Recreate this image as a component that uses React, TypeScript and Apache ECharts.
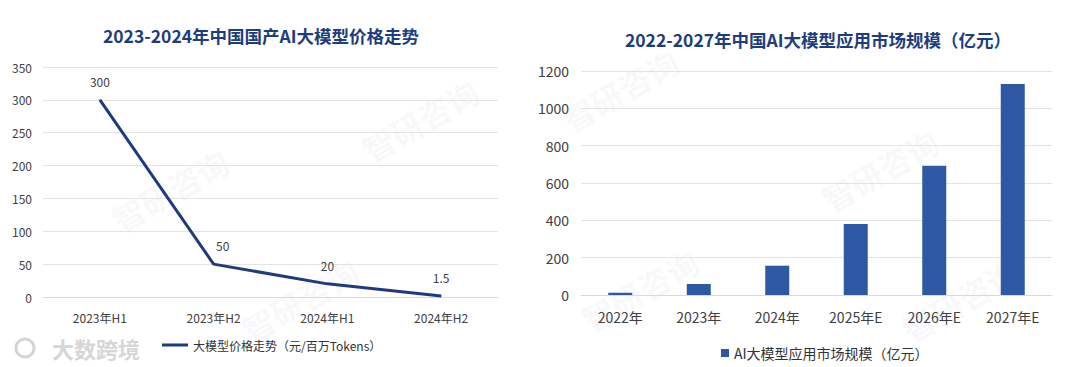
import React, { useEffect, useRef } from "react";
import * as echarts from "echarts";

const priceCategories = ["2023年H1", "2023年H2", "2024年H1", "2024年H2"];
const priceValues = [300, 50, 20, 1.5];
const priceTicks = { min: 0, max: 350, interval: 50 };
const priceSeriesName = "大模型价格走势（元/百万Tokens）";
const priceTitle = "2023-2024年中国国产AI大模型价格走势";

const marketCategories = ["2022年", "2023年", "2024年", "2025年E", "2026年E", "2027年E"];
const marketValues = [12, 59, 157, 380, 693, 1130];
const marketTicks = { min: 0, max: 1200, interval: 200 };
const marketSeriesName = "AI大模型应用市场规模（亿元）";
const marketTitle = "2022-2027年中国AI大模型应用市场规模（亿元）";

const watermarkText = "智研咨询";
const watermarks = [
  [170, 190], [420, 120], [300, 300], [640, 290], [880, 170], [960, 300], [620, 90]
];

const FONT = "'Noto Sans CJK SC', 'Noto Sans', sans-serif";

export default function App() {
  const ref = useRef<HTMLDivElement>(null);
  useEffect(() => {
    if (!ref.current) return;
    const chart = echarts.init(ref.current, null, { renderer: "svg" });
    const gridLine = { show: true, lineStyle: { color: "#e3e3e3", width: 1 } };
    chart.setOption({
      animation: false,
      backgroundColor: "#ffffff",
      textStyle: { fontFamily: FONT },
      title: [
        {
          text: priceTitle, left: 256, top: 22, textAlign: "center",
          textStyle: { fontFamily: FONT, fontSize: 17.5, fontWeight: "bold", color: "#1d3d7c" },
        },
        {
          text: marketTitle, left: 813, top: 26, textAlign: "center",
          textStyle: { fontFamily: FONT, fontSize: 17.5, fontWeight: "bold", color: "#1d3d7c" },
        },
      ],
      legend: [
        {
          data: [{ name: priceSeriesName, icon: "rect" }],
          left: 157, top: 334, itemWidth: 26, itemHeight: 3, itemGap: 2,
          textStyle: { fontFamily: FONT, fontSize: 12, color: "#333" },
        },
        {
          data: [{ name: marketSeriesName, icon: "rect" }],
          left: 716, top: 341, itemWidth: 8, itemHeight: 8, itemGap: 3,
          textStyle: { fontFamily: FONT, fontSize: 14, color: "#333" },
        },
      ],
      grid: [
        { left: 43, right: 582, top: 67, bottom: 70 },
        { left: 581, right: 28, top: 71, bottom: 72 },
      ],
      xAxis: [
        {
          type: "category", gridIndex: 0, data: priceCategories, boundaryGap: true,
          axisLine: { show: true, lineStyle: { color: "#d9d9d9" } }, axisTick: { show: false },
          axisLabel: { fontFamily: FONT, fontSize: 12, color: "#404040", margin: 14 },
        },
        {
          type: "category", gridIndex: 1, data: marketCategories, boundaryGap: true,
          axisLine: { show: true, lineStyle: { color: "#d9d9d9" } }, axisTick: { show: false },
          axisLabel: { fontFamily: FONT, fontSize: 14, color: "#404040", margin: 15 },
        },
      ],
      yAxis: [
        {
          type: "value", gridIndex: 0, ...priceTicks,
          splitLine: gridLine, axisLine: { show: false }, axisTick: { show: false },
          axisLabel: { fontFamily: FONT, fontSize: 12, color: "#404040", margin: 11 },
        },
        {
          type: "value", gridIndex: 1, ...marketTicks,
          splitLine: gridLine, axisLine: { show: false }, axisTick: { show: false },
          axisLabel: {
            fontFamily: FONT, fontSize: 14, color: "#404040", margin: 12,
            formatter: (v: number) => String(v),
          },
        },
      ],
      series: [
        {
          name: priceSeriesName, type: "line", xAxisIndex: 0, yAxisIndex: 0,
          data: priceValues, symbol: "circle", symbolSize: 1, showSymbol: true, z: 3,
          lineStyle: { color: "#1f3a7e", width: 3 },
          itemStyle: { color: "#1f3a7e" },
          label: {
            show: true, position: "top", distance: 12,
            fontFamily: FONT, fontSize: 12, color: "#404040",
          },
          labelLayout: (p: any) => (p.dataIndex === 1 ? { dx: 9 } : {}),
        },
        {
          name: marketSeriesName, type: "bar", xAxisIndex: 1, yAxisIndex: 1,
          data: marketValues, barWidth: 24, z: 3,
          itemStyle: { color: "#2e58a3" },
        },
      ],
      graphic: [
        ...watermarks.map(([x, y]) => ({
          type: "text", x, y, rotation: Math.PI / 6, z: 0, silent: true,
          style: {
            text: watermarkText, fill: "rgba(200,206,218,0.13)",
            font: `bold 32px ${FONT}`, textAlign: "center", textVerticalAlign: "middle",
          },
        })),
        {
          type: "circle", shape: { cx: 25, cy: 348, r: 9 }, z: 10,
          style: { fill: "none", stroke: "#d4d4d4", lineWidth: 3 },
        },
        {
          type: "text", x: 52, y: 348, z: 10,
          style: {
            text: "大数跨境", fill: "#d6d6d6", stroke: "#ffffff", lineWidth: 1,
            font: `bold 22px ${FONT}`, textVerticalAlign: "middle",
          },
        },
      ],
    });
    return () => chart.dispose();
  }, []);
  return (
    <div
      ref={ref}
      style={{ position: "fixed", left: 0, top: 0, width: 1080, height: 367 }}
    />
  );
}
